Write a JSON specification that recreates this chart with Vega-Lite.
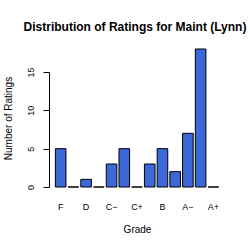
{
  "$schema": "https://vega.github.io/schema/vega-lite/v6.json",
  "autosize": "none",
  "width": 176,
  "height": 115,
  "padding": {"left": 49, "top": 72, "right": 25, "bottom": 63},
  "background": "white",
  "title": {
    "text": "Distribution of Ratings for Maint (Lynn)",
    "font": "Liberation Sans",
    "fontSize": 12,
    "fontWeight": "bold",
    "color": "black",
    "anchor": "middle",
    "offset": 15,
    "dx": -2
  },
  "data": {
    "values": [
      {"grade": "F", "count": 5},
      {"grade": "D−", "count": 0},
      {"grade": "D", "count": 1},
      {"grade": "D+", "count": 0},
      {"grade": "C−", "count": 3},
      {"grade": "C", "count": 5},
      {"grade": "C+", "count": 0},
      {"grade": "B−", "count": 3},
      {"grade": "B", "count": 5},
      {"grade": "B+", "count": 2},
      {"grade": "A−", "count": 7},
      {"grade": "A", "count": 18},
      {"grade": "A+", "count": 0}
    ]
  },
  "mark": {"type": "bar", "fill": "#3d68d8", "stroke": "black", "strokeWidth": 1, "clip": false},
  "encoding": {
    "x": {
      "field": "grade",
      "type": "nominal",
      "sort": null,
      "scale": {"paddingInner": 0.1667, "paddingOuter": 0.5},
      "axis": {
        "title": "Grade",
        "values": ["F", "D", "C−", "C+", "B", "A−", "A+"],
        "domain": false,
        "ticks": false,
        "tickSize": 0,
        "labelAngle": 0,
        "labelPadding": 15,
        "labelFontSize": 9,
        "titleFontSize": 10,
        "titleFontWeight": "normal",
        "titlePadding": 13
      }
    },
    "y": {
      "field": "count",
      "type": "quantitative",
      "scale": {"domain": [0, 15], "nice": false, "zero": true},
      "axis": {
        "title": "Number of Ratings",
        "values": [0, 5, 10, 15],
        "grid": false,
        "tickSize": 6,
        "labelAngle": -90,
        "labelPadding": 8,
        "labelFontSize": 9,
        "titleFontSize": 10,
        "titleFontWeight": "normal",
        "titleX": -41,
        "titleY": 46,
        "titleBaseline": "middle",
        "titleAlign": "center"
      }
    }
  },
  "config": {
    "font": "Liberation Sans",
    "view": {"stroke": null},
    "axis": {
      "domainColor": "black",
      "tickColor": "black",
      "labelColor": "black",
      "titleColor": "black",
      "labelFont": "Liberation Sans",
      "titleFont": "Liberation Sans"
    }
  }
}
